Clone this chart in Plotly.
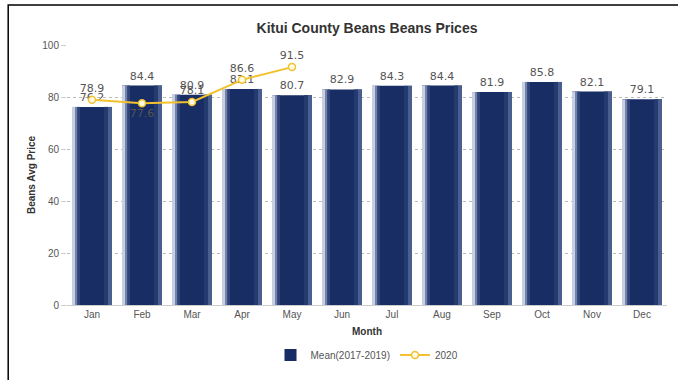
import plotly.graph_objects as go

months = ["Jan", "Feb", "Mar", "Apr", "May", "Jun",
          "Jul", "Aug", "Sep", "Oct", "Nov", "Dec"]
mean_2017_2019 = [76.2, 84.4, 80.9, 83.1, 80.7, 82.9,
                  84.3, 84.4, 81.9, 85.8, 82.1, 79.1]
months_2020 = ["Jan", "Feb", "Mar", "Apr", "May"]
prices_2020 = [78.9, 77.6, 78.1, 86.6, 91.5]
label_pos_2020 = ["top center", "bottom center", "top center", "top center", "top center"]

label_font = dict(family="DejaVu Sans", size=11, color="#555555")
axis_font = dict(family="Liberation Sans", size=10, color="#555555")

fig = go.Figure()

# base column
fig.add_trace(go.Bar(
    x=months, y=mean_2017_2019, name="Mean(2017-2019)",
    marker=dict(color="#172d63", line=dict(width=0)),
    width=0.8, offset=-0.4,
    text=[f"{v:.1f}" for v in mean_2017_2019], textposition="outside",
    textfont=label_font, cliponaxis=False,
))

# shading strips giving the columns a cylindrical look
strips = [
    (-0.40, 0.06, "#c8cfe0"),
    (-0.34, 0.05, "#7383ab"),
    (-0.29, 0.05, "#2f4579"),
    (0.24, 0.08, "#243b70"),
    (0.32, 0.08, "#4a5e90"),
]
for off, w, col in strips:
    fig.add_trace(go.Bar(
        x=months, y=mean_2017_2019, width=w, offset=off,
        marker=dict(color=col, line=dict(width=0)),
        showlegend=False, hoverinfo="skip",
    ))

fig.add_trace(go.Scatter(
    x=months_2020, y=prices_2020, name="2020", mode="lines+markers+text",
    line=dict(color="#f2c12e", width=2),
    marker=dict(size=7, color="#fffbe6", line=dict(color="#f2c12e", width=1.5)),
    text=[f"{v:.1f}" for v in prices_2020], textposition=label_pos_2020,
    textfont=label_font, cliponaxis=False,
))

fig.update_layout(
    width=678, height=380,
    margin=dict(l=67, r=11, t=45, b=75, autoexpand=False),
    paper_bgcolor="white", plot_bgcolor="white",
    barmode="overlay",
    title=dict(text="<b>Kitui County Beans Beans Prices</b>", x=0.5, xref="paper",
               y=1 - 28 / 380, yref="container", xanchor="center", yanchor="middle",
               font=dict(family="Liberation Sans", size=14, color="#333333")),
    xaxis=dict(
        categoryorder="array", categoryarray=months, automargin=False,
        tickfont=axis_font, showgrid=False,
        showline=True, linecolor="#cccccc", linewidth=1,
        ticks="", range=[-0.5, 11.5],
        title=dict(text="<b>Month</b>", standoff=8,
                   font=dict(family="Liberation Sans", size=10, color="#333333")),
    ),
    yaxis=dict(
        range=[0, 100], dtick=20, tickfont=axis_font, automargin=False,
        showgrid=True, gridcolor="#bbbbbb", griddash="dot", gridwidth=1,
        zeroline=False, ticks="outside", ticklen=5, tickcolor="#cccccc",
        title=dict(text="<b>Beans Avg Price</b>", standoff=4,
                   font=dict(family="Liberation Sans", size=10, color="#333333")),
    ),
    legend=dict(orientation="h", x=0.5, xanchor="center",
                yref="container", y=1 - 355 / 380, yanchor="middle",
                font=dict(family="Liberation Sans", size=10, color="#555555")),
    shapes=[dict(type="rect", xref="paper", yref="paper",
                 x0=-0.098, x1=1.06, y0=-0.4, y1=1.154,
                 line=dict(color="black", width=1.5), fillcolor="rgba(0,0,0,0)",
                 layer="above")],
)

fig.write_html("out.html")
